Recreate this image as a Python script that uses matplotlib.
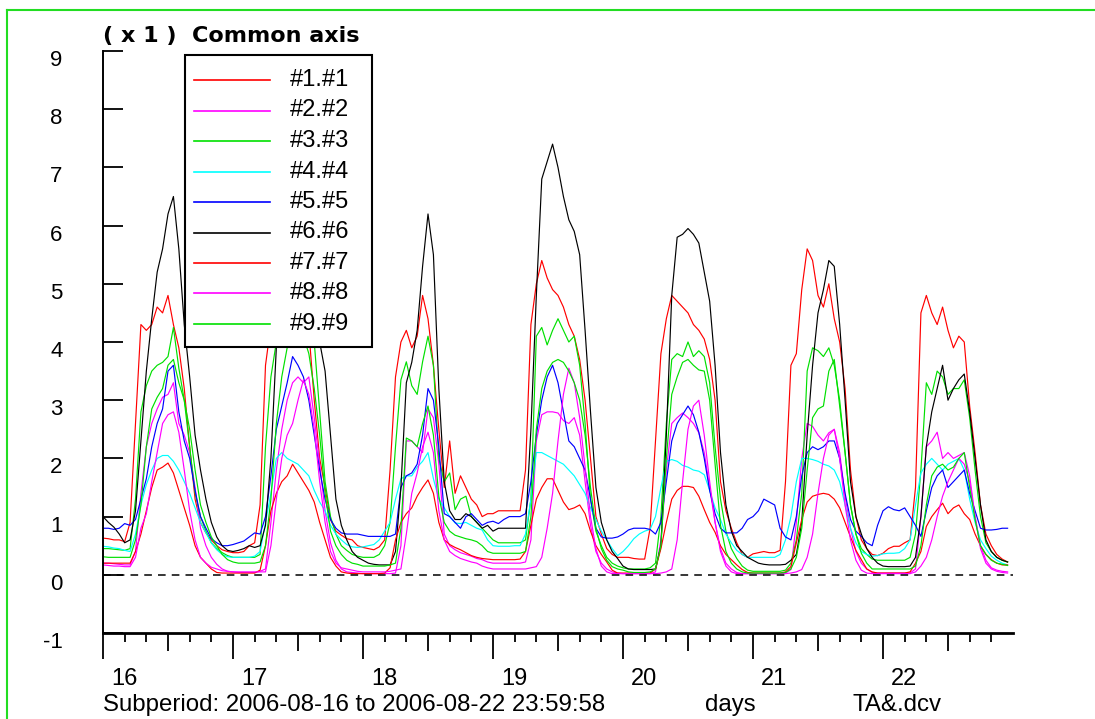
import numpy as np
import matplotlib.pyplot as plt
import matplotlib.transforms as mtrans
from matplotlib.lines import Line2D
from matplotlib.patches import Rectangle

plt.rcParams['font.family'] = ['Liberation Sans', 'DejaVu Sans']

# hourly readings, one row per day (16 ... 22)
s1 = [0.63, 0.62, 0.6, 0.6, 0.57, 0.9, 2.6, 4.3, 4.2, 4.3, 4.6, 4.5, 4.8, 4.3, 3.9, 3.2, 2.2, 1.3, 0.9, 0.72, 0.6, 0.5, 0.43, 0.4,
      0.38, 0.38, 0.4, 0.5, 0.55, 1.2, 3.6, 4.3, 4.6, 4.8, 4.9, 4.9, 4.8, 4.6, 4.2, 3.0, 2.0, 1.5, 0.95, 0.75, 0.68, 0.62, 0.6, 0.5,
      0.47, 0.45, 0.43, 0.48, 0.6, 1.8, 3.4, 4.0, 4.2, 3.9, 4.1, 4.8, 4.4, 3.6, 2.5, 1.5, 2.3, 1.4, 1.7, 1.5, 1.3, 1.2, 1.0, 1.05,
      1.05, 1.1, 1.1, 1.1, 1.1, 1.1, 1.8, 4.3, 5.0, 5.4, 5.1, 4.9, 4.8, 4.6, 4.3, 4.1, 3.7, 3.0, 2.0, 1.0, 0.7, 0.45, 0.35, 0.3,
      0.3, 0.3, 0.28, 0.27, 0.27, 0.8, 2.3, 3.8, 4.4, 4.8, 4.7, 4.6, 4.5, 4.3, 4.2, 4.05, 3.7, 3.0, 1.6, 1.1, 0.8, 0.55, 0.35, 0.3,
      0.36, 0.38, 0.4, 0.38, 0.38, 0.42, 1.6, 3.6, 3.8, 4.9, 5.6, 5.4, 4.8, 4.6, 5.0, 4.4, 4.0, 3.2, 1.8, 1.0, 0.6, 0.45, 0.35, 0.33,
      0.37, 0.45, 0.49, 0.49, 0.55, 0.6, 1.5, 4.5, 4.8, 4.5, 4.3, 4.6, 4.2, 3.9, 4.1, 4.0, 2.9, 2.1, 1.2, 0.7, 0.5, 0.35, 0.27, 0.22]
s2 = [0.2, 0.2, 0.19, 0.18, 0.17, 0.17, 0.4, 1.4, 2.2, 2.6, 2.85, 3.05, 3.1, 3.3, 2.6, 2.4, 2.1, 1.5, 0.8, 0.5, 0.3, 0.18, 0.1, 0.06,
      0.05, 0.04, 0.04, 0.04, 0.04, 0.06, 0.1, 0.9, 1.8, 2.5, 3.0, 3.3, 3.4, 3.3, 3.4, 2.7, 1.9, 1.1, 0.55, 0.25, 0.1, 0.05, 0.04, 0.03,
      0.02, 0.02, 0.02, 0.02, 0.02, 0.02, 0.03, 0.5, 2.3, 2.3, 2.2, 2.1, 2.85, 2.7, 1.9, 0.7, 0.5, 0.43, 0.38, 0.35, 0.32, 0.28, 0.26, 0.22,
      0.2, 0.2, 0.2, 0.2, 0.2, 0.2, 0.22, 0.6, 2.3, 2.75, 2.8, 2.8, 2.78, 2.65, 2.6, 2.7, 2.4, 1.6, 0.85, 0.4, 0.2, 0.1, 0.05, 0.03,
      0.02, 0.02, 0.02, 0.02, 0.02, 0.02, 0.05, 0.6, 1.8, 2.6, 2.7, 2.78, 2.7, 2.6, 2.44, 2.1, 1.5, 0.9, 0.45, 0.2, 0.1, 0.04, 0.02, 0.02,
      0.02, 0.02, 0.02, 0.02, 0.02, 0.02, 0.03, 0.09, 0.9, 2.0, 2.6, 2.55, 2.4, 2.3, 2.44, 2.5, 2.1, 1.35, 0.8, 0.4, 0.2, 0.1, 0.04, 0.03,
      0.03, 0.03, 0.03, 0.03, 0.03, 0.03, 0.1, 1.0, 2.2, 2.3, 2.45, 2.0, 2.1, 2.0, 2.05, 2.1, 1.7, 1.0, 0.5, 0.25, 0.12, 0.08, 0.06, 0.05]
s3 = [0.45, 0.45, 0.44, 0.43, 0.42, 0.45, 1.3, 2.8, 3.25, 3.5, 3.6, 3.65, 3.75, 4.25, 3.55, 3.0, 2.2, 1.4, 1.0, 0.75, 0.55, 0.45, 0.38, 0.33,
      0.3, 0.3, 0.3, 0.3, 0.3, 0.35, 2.2, 3.4, 4.0, 4.3, 4.5, 4.6, 4.6, 4.5, 4.3, 4.0, 2.8, 1.6, 1.0, 0.7, 0.5, 0.42, 0.35, 0.32,
      0.3, 0.3, 0.3, 0.35, 0.5, 0.9, 2.2, 3.35, 3.66, 3.25, 3.1, 3.66, 4.1, 3.6, 2.0, 1.6, 1.75, 1.12, 1.3, 1.35, 1.0, 0.9, 0.8, 0.7,
      0.6, 0.55, 0.55, 0.55, 0.55, 0.55, 0.6, 1.3, 4.1, 4.25, 3.95, 4.2, 4.4, 4.2, 4.0, 4.1, 3.6, 2.6, 1.3, 0.75, 0.5, 0.3, 0.2, 0.15,
      0.12, 0.1, 0.1, 0.1, 0.1, 0.12, 0.2, 1.0, 2.6, 3.7, 3.8, 3.75, 4.0, 3.75, 3.85, 3.75, 3.3, 2.2, 1.3, 0.75, 0.45, 0.28, 0.15, 0.08,
      0.06, 0.06, 0.06, 0.06, 0.06, 0.06, 0.08, 0.2, 0.6, 1.4, 3.5, 3.9, 3.85, 3.75, 3.9, 3.6, 3.0, 2.1, 1.2, 0.7, 0.45, 0.35, 0.27, 0.25,
      0.25, 0.25, 0.25, 0.25, 0.25, 0.3, 0.7, 1.8, 3.3, 3.1, 3.5, 3.4, 3.1, 3.2, 3.2, 3.35, 2.7, 1.8, 1.0, 0.55, 0.4, 0.3, 0.25, 0.22]
s4 = [0.49, 0.48, 0.46, 0.45, 0.42, 0.4, 0.7, 1.2, 1.55, 1.8, 2.0, 2.05, 2.05, 1.95, 1.8, 1.6, 1.4, 1.15, 0.9, 0.72, 0.55, 0.43, 0.35, 0.31,
      0.3, 0.3, 0.3, 0.3, 0.32, 0.4, 0.9, 1.4, 2.0, 2.1, 2.0, 1.95, 1.9, 1.8, 1.7, 1.45, 1.25, 1.1, 0.85, 0.7, 0.6, 0.52, 0.48, 0.47,
      0.48, 0.5, 0.52, 0.6, 0.75, 0.9, 1.3, 1.65, 1.7, 1.7, 1.85, 1.95, 2.1, 1.65, 1.3, 1.15, 1.0, 0.89, 0.88, 0.9, 0.85, 0.8, 0.77, 0.6,
      0.5, 0.49, 0.49, 0.49, 0.5, 0.5, 0.7, 1.3, 2.1, 2.1, 2.05, 2.0, 1.95, 1.9, 1.8, 1.7, 1.55, 1.4, 1.15, 0.95, 0.75, 0.6, 0.45, 0.33,
      0.4, 0.5, 0.62, 0.7, 0.75, 0.78, 1.0, 1.5, 1.95, 1.98, 1.95, 1.88, 1.85, 1.8, 1.78, 1.72, 1.45, 1.15, 0.95, 0.7, 0.55, 0.42, 0.35, 0.3,
      0.3, 0.3, 0.3, 0.3, 0.3, 0.35, 0.6, 1.0, 1.6, 2.0, 2.0, 1.98, 1.95, 1.9, 1.87, 1.8, 1.6, 1.2, 0.8, 0.55, 0.4, 0.35, 0.32, 0.33,
      0.36, 0.37, 0.37, 0.38, 0.45, 0.6, 1.2, 1.75, 1.9, 2.0, 1.9, 1.8, 1.9, 1.95, 2.0, 1.8, 1.3, 0.9, 0.6, 0.45, 0.32, 0.25, 0.2, 0.17]
s5 = [0.8, 0.8, 0.78, 0.8, 0.88, 0.85, 0.95, 1.3, 1.65, 2.2, 2.6, 2.85, 3.5, 3.6, 2.8, 2.3, 2.0, 1.45, 1.0, 0.8, 0.62, 0.55, 0.5, 0.5,
      0.52, 0.55, 0.58, 0.65, 0.72, 0.7, 1.0, 1.7, 2.5, 2.9, 3.3, 3.75, 3.6, 3.4, 3.0, 2.4, 1.8, 1.3, 0.95, 0.8, 0.72, 0.7, 0.7, 0.7,
      0.68, 0.66, 0.66, 0.66, 0.66, 0.66, 0.7, 1.5, 1.7, 1.75, 1.9, 2.4, 3.2, 3.0, 2.2, 1.05, 1.0, 0.9, 0.8, 1.0, 1.05, 0.95, 0.85, 0.9,
      0.92, 0.88, 0.95, 1.0, 1.0, 1.0, 1.05, 1.6, 2.4, 3.0, 3.4, 3.6, 3.3, 2.8, 2.3, 2.2, 2.0, 1.8, 1.3, 0.8, 0.65, 0.63, 0.63, 0.65,
      0.7, 0.77, 0.8, 0.8, 0.8, 0.78, 0.7, 0.9, 1.6, 2.3, 2.6, 2.75, 2.9, 2.75, 2.45, 2.0, 1.45, 1.05, 0.8, 0.72, 0.72, 0.72, 0.8, 0.95,
      1.0, 1.1, 1.3, 1.25, 1.2, 0.8, 0.65, 0.6, 1.0, 1.7, 2.1, 2.2, 2.15, 2.2, 2.3, 2.3, 2.0, 1.4, 0.95, 0.75, 0.66, 0.55, 0.5, 0.85,
      1.1, 1.17, 1.12, 1.1, 1.15, 1.0, 0.85, 0.66, 1.1, 1.5, 1.7, 1.8, 1.5, 1.6, 1.7, 1.8, 1.4, 1.1, 0.8, 0.77, 0.77, 0.78, 0.8, 0.8]
s6 = [1.0, 0.9, 0.82, 0.7, 0.55, 0.6, 1.1, 2.3, 3.5, 4.4, 5.2, 5.6, 6.2, 6.5, 5.6, 4.3, 3.4, 2.4, 1.8, 1.3, 0.9, 0.65, 0.5, 0.42,
      0.4, 0.42, 0.45, 0.5, 0.47, 0.5, 0.85, 2.0, 3.9, 4.5, 4.9, 5.1, 5.2, 5.0, 4.7, 4.3, 4.0, 3.5, 2.4, 1.3, 0.85, 0.6, 0.4, 0.3,
      0.25, 0.2, 0.18, 0.17, 0.17, 0.17, 0.4, 1.5, 3.3, 3.65, 4.2, 5.3, 6.2, 5.5, 3.2, 1.6, 1.1, 0.95, 0.95, 1.05, 1.0, 0.9, 0.8, 0.85,
      0.75, 0.8, 0.8, 0.8, 0.8, 0.8, 0.8, 2.5, 4.8, 6.8, 7.1, 7.4, 7.0, 6.5, 6.1, 5.9, 5.5, 4.2, 2.8, 1.5, 0.9, 0.6, 0.4, 0.28,
      0.15, 0.1, 0.09, 0.09, 0.09, 0.09, 0.1, 0.5, 2.4, 4.8, 5.8, 5.85, 5.95, 5.85, 5.7, 5.2, 4.7, 3.6, 2.1, 1.2, 0.75, 0.5, 0.4, 0.3,
      0.25, 0.2, 0.18, 0.17, 0.17, 0.17, 0.18, 0.25, 0.35, 0.9, 2.4, 3.6, 4.5, 4.9, 5.4, 5.3, 4.3, 3.0, 1.6, 1.0, 0.7, 0.45, 0.3, 0.2,
      0.15, 0.14, 0.14, 0.14, 0.14, 0.15, 0.3, 1.0, 2.2, 2.8, 3.2, 3.6, 3.0, 3.2, 3.35, 3.45, 2.8, 2.0, 1.2, 0.6, 0.4, 0.3, 0.25, 0.22]
s7 = [0.2, 0.2, 0.2, 0.2, 0.2, 0.2, 0.4, 0.7, 1.1, 1.5, 1.8, 1.85, 1.92, 1.75, 1.45, 1.15, 0.85, 0.5, 0.3, 0.2, 0.1, 0.04, 0.03, 0.03,
      0.03, 0.03, 0.03, 0.03, 0.03, 0.08, 0.5, 1.1, 1.4, 1.6, 1.7, 1.9, 1.75, 1.6, 1.45, 1.25, 0.9, 0.6, 0.3, 0.15, 0.05, 0.03, 0.02, 0.02,
      0.02, 0.02, 0.02, 0.02, 0.03, 0.12, 0.6, 0.9, 1.05, 1.15, 1.35, 1.5, 1.63, 1.4, 0.9, 0.6, 0.52, 0.47, 0.43, 0.38, 0.33, 0.3, 0.28, 0.27,
      0.26, 0.26, 0.26, 0.26, 0.26, 0.27, 0.4, 0.85, 1.3, 1.5, 1.65, 1.65, 1.45, 1.25, 1.12, 1.15, 1.2, 1.05, 0.75, 0.5, 0.35, 0.22, 0.08, 0.03,
      0.03, 0.03, 0.03, 0.03, 0.03, 0.03, 0.1, 0.45, 0.9, 1.3, 1.45, 1.52, 1.52, 1.5, 1.35, 1.12, 0.9, 0.73, 0.5, 0.35, 0.26, 0.17, 0.09, 0.04,
      0.03, 0.03, 0.03, 0.03, 0.03, 0.03, 0.05, 0.14, 0.55, 0.95, 1.25, 1.35, 1.38, 1.4, 1.38, 1.3, 1.15, 0.9, 0.65, 0.42, 0.26, 0.1, 0.05, 0.03,
      0.03, 0.03, 0.03, 0.03, 0.03, 0.05, 0.2, 0.4, 0.83, 1.0, 1.12, 1.23, 1.05, 1.15, 1.2, 1.05, 0.95, 0.7, 0.5, 0.35, 0.26, 0.2, 0.17, 0.17]
s8 = [0.17, 0.16, 0.15, 0.15, 0.14, 0.14, 0.3, 0.8, 1.05, 1.6, 2.1, 2.6, 2.75, 2.8, 2.45, 1.8, 1.1, 0.6, 0.3, 0.2, 0.13, 0.1, 0.07, 0.06,
      0.05, 0.05, 0.05, 0.05, 0.05, 0.05, 0.05, 0.5, 1.3, 2.0, 2.4, 2.6, 3.0, 3.35, 3.1, 2.5, 1.6, 0.9, 0.4, 0.2, 0.12, 0.1, 0.08, 0.06,
      0.05, 0.05, 0.05, 0.05, 0.05, 0.06, 0.08, 0.1, 0.7, 1.4, 1.75, 2.2, 2.45, 2.1, 1.1, 0.6, 0.4, 0.33, 0.28, 0.25, 0.22, 0.2, 0.15, 0.12,
      0.1, 0.1, 0.1, 0.1, 0.1, 0.1, 0.1, 0.12, 0.14, 0.3, 0.8, 1.4, 2.3, 3.1, 3.55, 3.3, 2.7, 1.85, 1.0, 0.45, 0.15, 0.05, 0.02, 0.02,
      0.02, 0.02, 0.02, 0.02, 0.02, 0.02, 0.02, 0.03, 0.05, 0.1, 0.6, 1.6, 2.5, 2.9, 3.0, 2.4, 1.6, 0.9, 0.4, 0.15, 0.05, 0.02, 0.02, 0.02,
      0.02, 0.02, 0.02, 0.02, 0.02, 0.02, 0.02, 0.03, 0.05, 0.09, 0.3, 0.7, 1.4, 2.0, 2.4, 2.5, 2.0, 1.2, 0.6, 0.25, 0.08, 0.03, 0.02, 0.02,
      0.02, 0.02, 0.02, 0.02, 0.02, 0.02, 0.05, 0.15, 0.3, 0.6, 1.0, 1.35, 1.6, 1.8, 2.0, 1.9, 1.6, 1.0, 0.45, 0.2, 0.1, 0.06, 0.04, 0.03]
s9 = [0.31, 0.3, 0.3, 0.3, 0.3, 0.3, 0.6, 1.2, 2.2, 2.85, 3.05, 3.2, 3.6, 3.7, 3.3, 3.0, 2.5, 1.8, 1.2, 0.9, 0.65, 0.5, 0.35, 0.26,
      0.22, 0.2, 0.2, 0.2, 0.2, 0.22, 0.5, 1.3, 2.6, 3.4, 3.9, 4.1, 4.2, 4.1, 3.8, 3.2, 2.4, 1.4, 0.75, 0.5, 0.35, 0.25, 0.2, 0.18,
      0.15, 0.15, 0.15, 0.15, 0.15, 0.17, 0.2, 0.8, 2.35, 2.3, 2.2, 2.6, 2.9, 2.4, 1.35, 0.9, 0.75, 0.68, 0.65, 0.62, 0.6, 0.57, 0.5, 0.4,
      0.37, 0.37, 0.37, 0.37, 0.37, 0.37, 0.4, 1.0, 2.5, 3.2, 3.5, 3.65, 3.7, 3.65, 3.5, 3.3, 3.0, 2.4, 1.5, 0.8, 0.45, 0.25, 0.14, 0.1,
      0.08, 0.05, 0.04, 0.04, 0.04, 0.05, 0.1, 0.5, 2.0, 3.1, 3.4, 3.65, 3.7, 3.6, 3.52, 3.5, 3.0, 1.9, 0.85, 0.4, 0.2, 0.1, 0.05, 0.03,
      0.03, 0.03, 0.03, 0.03, 0.03, 0.03, 0.04, 0.1, 0.3, 0.8, 1.8, 2.7, 2.85, 2.9, 3.5, 3.7, 2.9, 2.1, 1.2, 0.7, 0.37, 0.2, 0.1, 0.1,
      0.1, 0.1, 0.1, 0.1, 0.1, 0.1, 0.15, 0.5, 1.2, 1.7, 1.85, 1.9, 1.8, 1.85, 2.0, 2.1, 1.5, 0.95, 0.5, 0.35, 0.25, 0.2, 0.18, 0.16]

series = [s1, s2, s3, s4, s5, s6, s7, s8, s9]
names = ['#1.#1', '#2.#2', '#3.#3', '#4.#4', '#5.#5', '#6.#6', '#7.#7', '#8.#8', '#9.#9']
colors = ['#ff0000', '#ff00ff', '#00e000', '#00ffff', '#0000ff', '#000000', '#ff0000', '#ff00ff', '#00e000']
days = [16, 17, 18, 19, 20, 21, 22]
ylabels = ['-1', '0', '1', '2', '3', '4', '5', '6', '7', '8', '9']

W, H = 1095, 719
fig = plt.figure(figsize=(W / 100, H / 100), dpi=100)
ax = fig.add_axes([103 / W, 86 / H, 910 / W, 582 / H])

t = days[0] + np.arange(len(s1)) / 24.0
for vals, col in zip(series, colors):
    ax.plot(t, vals, color=col, lw=0.85)
ax.axhline(0, color='black', lw=1.1, ls=(0, (5, 4)))

ax.set_xlim(16, 23)
ax.set_ylim(-1, 9)
for s in ['top', 'right']:
    ax.spines[s].set_visible(False)
ax.spines['left'].set_linewidth(1.4)
ax.spines['bottom'].set_linewidth(2.0)

# y axis: inward ticks, labels sitting a little below each tick
ax.set_yticks(range(-1, 10))
ax.set_yticklabels(ylabels)
ax.tick_params(axis='y', direction='in', length=14.5, width=1.3, pad=29, labelsize=16)
shift = mtrans.ScaledTranslation(0, -7 / 100, fig.dpi_scale_trans)
for lab in ax.get_yticklabels():
    lab.set_transform(lab.get_transform() + shift)

# x axis: day ticks, 4 h minor ticks, longer tick at noon
ax.set_xticks(days)
ax.set_xticks([d + h / 24 for d in days for h in (4, 8, 16, 20)], minor=True)
ax.tick_params(axis='x', which='major', direction='out', length=19, width=1.3, labelbottom=False)
ax.tick_params(axis='x', which='minor', direction='out', length=6.7, width=1.3)
noon = ax.secondary_xaxis('bottom')
noon.set_xticks([d + 0.5 for d in days])
noon.tick_params(axis='x', direction='out', length=12.7, width=1.3, labelbottom=False)
noon.spines['bottom'].set_visible(False)

xlab_tr = mtrans.blended_transform_factory(ax.transData, fig.transFigure)
for d in days:
    ax.text(d + 0.165, 1 - 679 / H, str(d), transform=xlab_tr, ha='center', va='center', fontsize=17)

fig.text(103 / W, 1 - 36 / H, '( x 1 )  Common axis', fontsize=16, fontweight='bold', ha='left', va='center',
         family=['DejaVu Sans'])
fig.text(103 / W, 1 - 705 / H, 'Subperiod: 2006-08-16 to 2006-08-22 23:59:58', fontsize=17.3, ha='left', va='center')
fig.text(730 / W, 1 - 705 / H, 'days', fontsize=17.3, ha='center', va='center')
fig.text(853 / W, 1 - 705 / H, 'TA&.dcv', fontsize=17.3, ha='left', va='center')

# legend box drawn in figure pixels
fig.add_artist(Rectangle((185 / W, 1 - 347 / H), 187 / W, 292 / H, transform=fig.transFigure,
                         facecolor='white', edgecolor='black', lw=1.5, zorder=5))
for i, (name, col) in enumerate(zip(names, colors)):
    yy = 1 - (80 + i * 30.5) / H
    fig.add_artist(Line2D([194 / W, 270 / W], [yy, yy], color=col, lw=1.2, transform=fig.transFigure, zorder=6))
    fig.text(290 / W, yy, name, fontsize=17, ha='left', va='center', zorder=6)

# green frame of the window
fig.add_artist(Line2D([7 / W, 7 / W], [0, 1 - 10 / H], color='#22dd22', lw=1.5, transform=fig.transFigure))
fig.add_artist(Line2D([7 / W, 1], [1 - 10 / H, 1 - 10 / H], color='#22dd22', lw=1.5, transform=fig.transFigure))

fig.savefig('out.png', dpi=100)
